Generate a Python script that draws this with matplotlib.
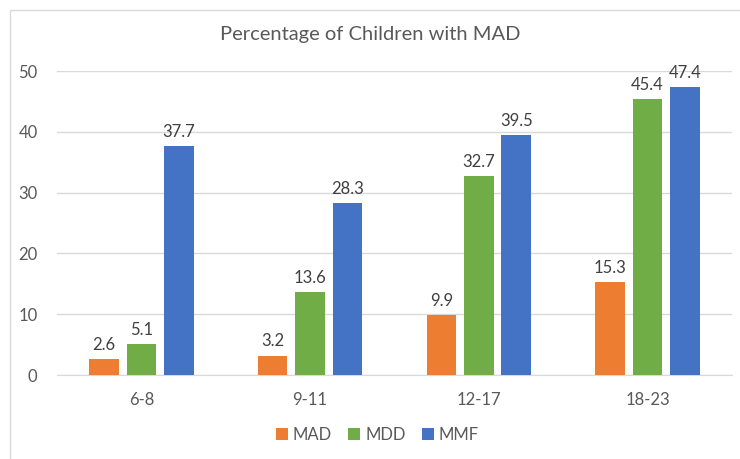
import matplotlib.pyplot as plt
from matplotlib.patches import Rectangle
import numpy as np

categories = ['6-8', '9-11', '12-17', '18-23']
series_names = ['MAD', 'MDD', 'MMF']
mad = [2.6, 3.2, 9.9, 15.3]
mdd = [5.1, 13.6, 32.7, 45.4]
mmf = [37.7, 28.3, 39.5, 47.4]
colors = ['#ED7D31', '#70AD47', '#4472C4']


def main():
    plt.rcParams['font.family'] = ['Lato', 'DejaVu Sans']
    fig = plt.figure(figsize=(7.4, 4.59), dpi=100)
    ax = fig.add_axes([0.077, 0.183, 0.912, 0.662])

    x = np.arange(len(categories))
    width = 0.175
    offset = 0.222
    for i, (vals, name) in enumerate(zip([mad, mdd, mmf], series_names)):
        pos = x + (i - 1) * offset
        bars = ax.bar(pos, vals, width, color=colors[i], label=name, zorder=3)
        for b, v in zip(bars, vals):
            ax.text(b.get_x() + b.get_width() / 2, v + 1.0, f'{v:.1f}',
                    ha='center', va='bottom', fontsize=12, color='#404040')

    ax.set_xlim(-0.5, 3.5)
    ax.set_ylim(0, 50)
    ax.set_yticks(range(0, 51, 10))
    ax.set_xticks(x)
    ax.set_xticklabels(categories)
    ax.yaxis.grid(True, color='#D9D9D9', linewidth=1, zorder=0)
    for s in ['top', 'right', 'left']:
        ax.spines[s].set_visible(False)
    ax.spines['bottom'].set_color('#D9D9D9')
    ax.tick_params(axis='both', length=0, labelsize=12, colors='#595959')
    ax.tick_params(axis='x', pad=12)
    ax.tick_params(axis='y', pad=14)

    fig.text(0.5, 0.924, 'Percentage of Children with MAD', ha='center', va='center',
             fontsize=14.5, color='#595959')

    ax.legend(loc='center', frameon=False, ncol=3, fontsize=12,
              handlelength=0.7, handleheight=0.7, handletextpad=0.3,
              columnspacing=1.0, labelcolor='#595959',
              bbox_to_anchor=(0.51, 0.052), bbox_transform=fig.transFigure)

    fig.patches.append(Rectangle((10 / 740, -0.1), 1.2, 1 - 10 / 459 + 0.1,
                                 transform=fig.transFigure, fill=False,
                                 edgecolor='#D9D9D9', linewidth=1))

    plt.savefig('out.png', dpi=100)


if __name__ == "__main__":
    main()
